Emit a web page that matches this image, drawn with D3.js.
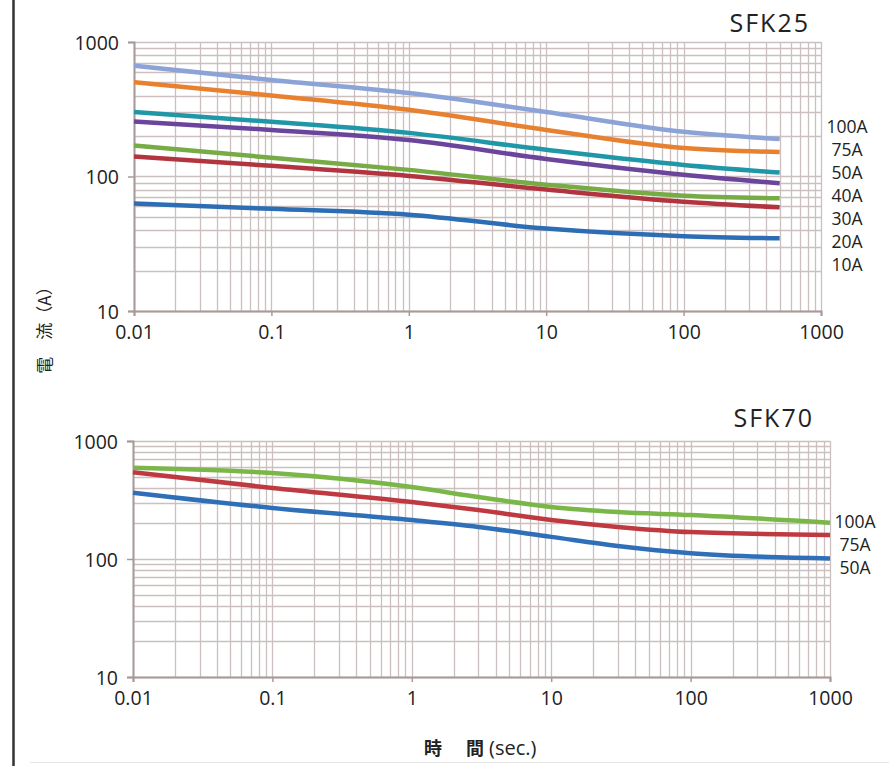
<!DOCTYPE html>
<html><head><meta charset="utf-8">
<script src="https://cdn.jsdelivr.net/npm/d3@7"></script>
<style>body{margin:0;background:#fff}svg{display:block}</style>
</head><body>
<svg id="c" width="889" height="766"></svg>
<script>
// ---- data ----
const timeTicks = [0.01, 0.1, 1, 10, 100, 1000];
const timeTickLabels = ["0.01", "0.1", "1", "10", "100", "1000"];
const currentTicks = [10, 100, 1000];
const currentTickLabels = ["10", "100", "1000"];

// SFK25
const sfk25Times = [0.01, 0.1, 1, 10, 100, 500];
const sfk25Labels = ["100A", "75A", "50A", "40A", "30A", "20A", "10A"];
const sfk25_100A = [667, 522, 418, 302, 215, 190];
const sfk25_75A  = [502, 400, 313, 222, 163, 152];
const sfk25_50A  = [302, 255, 211, 158, 122, 107];
const sfk25_40A  = [256, 222, 187, 135, 103, 89];
const sfk25_30A  = [170, 138, 112, 87, 72, 69];
const sfk25_20A  = [141, 120, 101, 80, 65, 59];
const sfk25_10A  = [63, 57.5, 52, 41, 36, 34.7];
const sfk25Colors = ["#8ba3d6", "#e8812f", "#1f97a7", "#6b449c", "#76ab46", "#b2343f", "#2d6db3"];

// SFK70
const sfk70Times = [0.01, 0.1, 1, 3, 10, 30, 100, 1000];
const sfk70Labels = ["100A", "75A", "50A"];
const sfk70_100A = [594, 535, 407, 335, 276, 250, 236, 203];
const sfk70_75A  = [543, 400, 304, 260, 214, 187, 169, 160];
const sfk70_50A  = [365, 271, 214, 187, 154, 129, 112, 101];
const sfk70Colors = ["#7ab648", "#bf3a40", "#2e6fb8"];

const svg = d3.select("#c");
const FONT = "'Open Sans', 'Noto Sans', sans-serif";
const CJK = "'Noto Sans CJK JP', 'Noto Sans CJK SC', sans-serif";
const gridColor = "#cbbfbf";
const axisColor = "#a89a9a";

// left border line
svg.append("line").attr("x1", 13.5).attr("x2", 13.5).attr("y1", 0).attr("y2", 766)
  .attr("stroke", "#333").attr("stroke-width", 2.5);
svg.append("line").attr("x1", 30).attr("x2", 889).attr("y1", 762.5).attr("y2", 762.5)
  .attr("stroke", "#e6e6e6").attr("stroke-width", 1);

function drawChart(cfg) {
  const x = d3.scaleLog().domain([0.01, 1000]).range([cfg.x0, cfg.x1]);
  const y = d3.scaleLog().domain([10, 1000]).range([cfg.y1, cfg.y0]);
  const g = svg.append("g");

  const xGrid = [];
  for (let e = -2; e < 3; e++) for (let m = 1; m <= 9; m++) xGrid.push(m * Math.pow(10, e));
  xGrid.push(1000);
  const yGrid = [];
  for (let e = 1; e < 3; e++) for (let m = 1; m <= 9; m++) yGrid.push(m * Math.pow(10, e));
  yGrid.push(1000);

  g.selectAll(".vg").data(xGrid).join("line")
    .attr("x1", d => Math.round(x(d)) + 0.5).attr("x2", d => Math.round(x(d)) + 0.5)
    .attr("y1", cfg.y0).attr("y2", cfg.y1)
    .attr("stroke", gridColor).attr("stroke-width", 1.3);
  g.selectAll(".hg").data(yGrid).join("line")
    .attr("y1", d => Math.round(y(d)) + 0.5).attr("y2", d => Math.round(y(d)) + 0.5)
    .attr("x1", cfg.x0).attr("x2", cfg.x1)
    .attr("stroke", gridColor).attr("stroke-width", 1.3);

  const xAxis = d3.axisBottom(x).tickValues(timeTicks)
    .tickFormat((d, i) => timeTickLabels[i]).tickSize(5).tickPadding(9);
  const yAxis = d3.axisLeft(y).tickValues(currentTicks)
    .tickFormat((d, i) => currentTickLabels[i]).tickSize(6).tickPadding(9);
  const ax = g.append("g").attr("transform", `translate(0,${cfg.y1})`).call(xAxis);
  const ay = g.append("g").attr("transform", `translate(${cfg.x0},0)`).call(yAxis);
  [ax, ay].forEach(a => {
    a.select(".domain").attr("stroke", axisColor).attr("stroke-width", 2);
    a.selectAll(".tick line").attr("stroke", axisColor).attr("stroke-width", 1.5);
    a.selectAll("text").attr("font-family", FONT).attr("font-size", 19.5).attr("fill", "#222");
  });
  ay.selectAll("text").attr("dy", "0.36em");

  const line = d3.line().x(d => x(d[0])).y(d => y(d[1])).curve(d3.curveMonotoneX);
  cfg.series.forEach((s, i) => {
    const pts = cfg.times.map((t, j) => [t, s[j]]);
    g.append("path").attr("d", line(pts)).attr("fill", "none")
      .attr("stroke", cfg.colors[i]).attr("stroke-width", 4.5)
      .attr("stroke-linecap", "butt");
  });

  cfg.labels.forEach((l, i) => {
    g.append("text").attr("x", cfg.lx).attr("y", cfg.ly + i * cfg.lstep)
      .attr("text-anchor", "middle").attr("dominant-baseline", "middle")
      .attr("font-family", FONT).attr("font-size", 17.5).attr("fill", "#222").text(l);
  });

  g.append("text").attr("x", cfg.tx).attr("y", cfg.ty).attr("text-anchor", "end")
    .attr("font-family", FONT).attr("font-size", 25).attr("letter-spacing", 2)
    .attr("fill", "#222").text(cfg.title);
}

drawChart({
  x0: 134, x1: 821, y0: 42, y1: 311,
  times: sfk25Times,
  series: [sfk25_100A, sfk25_75A, sfk25_50A, sfk25_40A, sfk25_30A, sfk25_20A, sfk25_10A],
  colors: sfk25Colors, labels: sfk25Labels,
  lx: 847, ly: 128, lstep: 23,
  title: "SFK25", tx: 810, ty: 32
});

drawChart({
  x0: 133, x1: 830, y0: 441, y1: 677,
  times: sfk70Times,
  series: [sfk70_100A, sfk70_75A, sfk70_50A],
  colors: sfk70Colors, labels: sfk70Labels,
  lx: 855, ly: 523, lstep: 23,
  title: "SFK70", tx: 814, ty: 427
});

// axis titles
svg.append("text").attr("transform", "translate(43,326) rotate(-90)")
  .attr("text-anchor", "middle").attr("dominant-baseline", "central")
  .attr("font-family", CJK).attr("font-size", 17).attr("fill", "#222")
  .text("電　流（A）");
const xt = svg.append("text").attr("y", 755)
  .attr("font-family", CJK).attr("font-size", 18).attr("fill", "#222");
xt.append("tspan").attr("x", 424).attr("font-weight", "bold").text("時");
xt.append("tspan").attr("x", 466).attr("font-weight", "bold").text("間");
xt.append("tspan").attr("x", 489).attr("font-family", FONT).attr("font-size", 20).text("(sec.)");
</script>
</body></html>
